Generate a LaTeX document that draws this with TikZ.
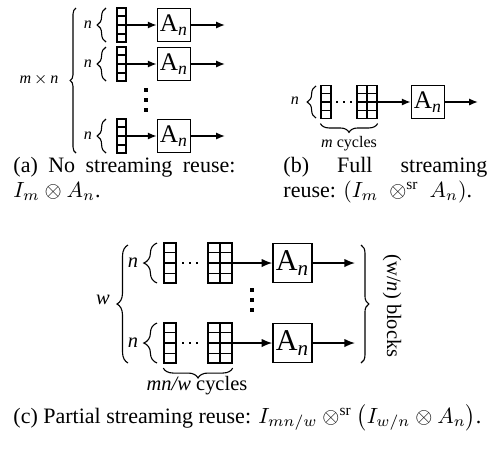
\documentclass[tikz,border=0pt]{standalone}
\usepackage{fontspec}
\setmainfont{Liberation Serif}
\usetikzlibrary{arrows.meta, decorations.pathreplacing, calc, positioning}

\tikzset{
  lbla/.style={inner sep=0, font=\fontsize{7.3}{8}\selectfont},
  lblc/.style={inner sep=0, font=\fontsize{9.3}{10}\selectfont},
  blka/.style={draw, line width=0.7pt, inner sep=0, minimum size=15pt, font=\fontsize{11.5}{12}\selectfont},
  blkc/.style={draw, line width=0.7pt, inner sep=0, minimum size=17.7pt, font=\fontsize{13.7}{14}\selectfont},
  cola/.style={draw, line width=0.6pt, inner sep=0, minimum width=4.1pt, minimum height=15.5pt},
  colb/.style={draw, line width=0.6pt, inner sep=0, minimum width=4.5pt, minimum height=15pt},
  colc/.style={draw, line width=0.6pt, inner sep=0, minimum width=5.5pt, minimum height=18.2pt},
  arra/.style={line width=0.7pt, -{Latex[length=4pt,width=3.2pt]}},
  arrc/.style={line width=0.7pt, -{Latex[length=4.8pt,width=3.8pt]}},
  brc/.style={decorate, line width=0.5pt, decoration={brace, amplitude=#1}},
  captxt/.style={inner sep=0, anchor=base west, font=\fontsize{10}{12}\selectfont}
}
\newcommand{\cells}[1]{\foreach \k in {0.25,0.5,0.75}
  \draw[line width=0.6pt] ($(#1.north west)!\k!(#1.south west)$) -- ($(#1.north east)!\k!(#1.south east)$);}

\begin{document}
\begin{tikzpicture}[x=0.4545pt, y=-0.4545pt]
\useasboundingbox (0,0) rectangle (498,449);

% (a)
\path (39,80) node[lbla] (a-mn) {\textit{m}\,$\times$\,\textit{n}};
\draw[brc=2.7pt] (76,153) -- (76,8);
\foreach \r/\y in {1/25, 2/64, 3/136} {
  \path (88,\y) node[lbla] (a-n\r) {\textit{n}};
  \draw[brc=4pt] (106,\y+17) -- (106,\y-17);
  \path (121.5,\y) node[cola] (a-col\r) {};
  \cells{a-col\r}
  \path (174,\y) node[blka] (a-blk\r) {A\textsubscript{\textit{n}}};
  \coordinate (a-out\r) at (225,\y);
  \draw[arra] (a-col\r) -- (a-blk\r);
  \draw[arra] (a-blk\r) -- (a-out\r);
}
\foreach \d in {90,100,110}
  \fill (144.3,\d-1.7) rectangle (147.7,\d+1.7);

% (b)
\path (295,101) node[lbla] (b-n) {\textit{n}};
\draw[brc=4pt] (316,118) -- (316,86);
\path (326,102) node[colb] (b-col1) {};
\path (362,102) node[colb] (b-col2) {};
\path (372,102) node[colb] (b-col3) {};
\cells{b-col1} \cells{b-col2} \cells{b-col3}
\foreach \d in {337,344,351}
  \fill (\d-1.2,100.8) rectangle (\d+1.2,103.2);
\path (428,102) node[blka] (b-blk) {A\textsubscript{\textit{n}}};
\coordinate (b-out) at (478,102);
\draw[arra] (b-col3) -- (b-blk);
\draw[arra] (b-blk) -- (b-out);
\draw[brc=4pt] ([yshift=-2pt]b-col3.south east) -- ([yshift=-2pt]b-col1.south west);
\path (349,144) node[lbla] (b-cyc) {\textit{m} cycles};

% (c)
\path (103,300) node[lblc] (c-w) {\textit{w}};
\draw[brc=5pt] (128,363) -- (128,245);
\foreach \r/\y in {1/263, 2/343} {
  \path (133,\y) node[lblc] (c-n\r) {\textit{n}};
  \draw[brc=6pt] (157,\y+20) -- (157,\y-20);
  \path (170,\y) node[colc] (c-col\r-1) {};
  \path (214,\y) node[colc] (c-col\r-2) {};
  \path (226,\y) node[colc] (c-col\r-3) {};
  \cells{c-col\r-1} \cells{c-col\r-2} \cells{c-col\r-3}
  \foreach \d in {183,190,197}
    \fill (\d-1.3,\y-1.3) rectangle (\d+1.3,\y+1.3);
  \path (292.5,\y) node[blkc] (c-blk\r) {A\textsubscript{\textit{n}}};
  \coordinate (c-out\r) at (355,\y);
  \draw[arrc] (c-col\r-3) -- (c-blk\r);
  \draw[arrc] (c-blk\r) -- (c-out\r);
}
\foreach \d in {290,300,310}
  \fill (250.2,\d-1.8) rectangle (253.8,\d+1.8);
\draw[brc=3.6pt] (361,245) -- (361,363);
\path (392,306) node[lblc, rotate=-90] (c-blocks) {(w/\textit{n}) blocks};
\draw[brc=4.5pt] ([yshift=-2pt]c-col2-3.south east) -- ([yshift=-2pt]c-col2-1.south west);
\path (197,386) node[lblc] (c-cyc) {\textit{mn/w} cycles};

% captions
\path (13,172) node[captxt] (cap-a1) {\makebox[100.9pt][s]{(a) No streaming reuse:}};
\path (13,197) node[captxt] (cap-a2) {$I_m \otimes A_n$.};
\path (283,172) node[captxt] (cap-b1) {\makebox[92.7pt][s]{(b) Full streaming}};
\path (283,197) node[captxt] (cap-b2) {reuse: $(I_m \;\otimes^{\mathrm{sr}}\; A_n)$.};
\path (13,423) node[captxt] (cap-c) {(c) Partial streaming reuse: $I_{mn/w} \otimes^{\mathrm{sr}} \bigl(I_{w/n} \otimes A_n\bigr)$.};
\end{tikzpicture}
\end{document}
